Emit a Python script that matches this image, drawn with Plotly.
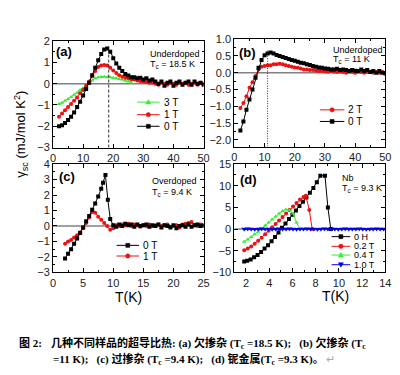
import plotly.graph_objects as go

# ---------------- data ----------------
# (a) underdoped Tc = 18.5 K
T_a = [2, 3, 4, 5, 6, 7, 8, 9, 10, 11, 12, 13, 14, 15, 16, 17, 18, 19, 20, 21, 22, 23, 24, 25, 26,
       27, 28, 29, 30, 31, 32, 33, 34, 35, 36, 37, 38, 39, 40, 41, 42, 43, 44, 45, 46, 47, 48, 49, 50]
a_0T = [-2.0, -1.95, -1.85, -1.7, -1.55, -1.35, -1.1, -0.85, -0.55, -0.25,
        0.05, 0.4, 0.75, 1.1, 1.4, 1.6, 1.65, 1.5, 1.2, 0.95,
        0.75, 0.6, 0.45, 0.38, 0.3, 0.3, 0.25, 0.28, 0.2, 0.25,
        0.15, 0.2, 0.1, 0.0, 0.1, -0.1, 0.05, 0.1, -0.1, 0.05,
        0.1, -0.05, 0.05, 0.1, -0.05, 0.1, 0.0, 0.05, -0.05]
a_1T = [-1.55, -1.4, -1.25, -1.1, -0.95, -0.8, -0.65, -0.45, -0.3, -0.1,
        0.1, 0.35, 0.6, 0.78, 0.85, 0.88, 0.85, 0.75, 0.62, 0.5,
        0.4, 0.33, 0.28, 0.25, 0.2, 0.2, 0.15, 0.12, 0.1, 0.08,
        0.05, 0.05, 0.0, -0.05, 0.05, 0.0, -0.05, 0.05, 0.0, -0.05,
        0.05, 0.0, 0.05, -0.05, 0.0, 0.05, -0.05, 0.05, 0.0]
T_a3 = [2, 3, 4, 5, 6, 7, 8, 9, 10, 11, 12, 13, 14, 15, 16, 17, 18, 19, 20, 21, 22, 23, 24, 25, 26]
a_3T = [-0.95, -0.9, -0.8, -0.72, -0.62, -0.52, -0.42, -0.3, -0.2, -0.08,
        0.05, 0.15, 0.25, 0.3, 0.32, 0.33, 0.3, 0.3, 0.28, 0.25,
        0.22, 0.2, 0.15, 0.1, 0.05]

# (b) underdoped Tc = 11 K
T_b = T_a
b_0T = [-1.72, -1.45, -1.1, -0.8, -0.5, -0.15, 0.15, 0.38, 0.52, 0.57,
        0.6, 0.57, 0.53, 0.5, 0.47, 0.44, 0.41, 0.38, 0.36, 0.33,
        0.3, 0.28, 0.25, 0.23, 0.2, 0.18, 0.16, 0.15, 0.13, 0.12,
        0.1, 0.1, 0.12, 0.08, 0.1, 0.08, 0.05, 0.08, 0.06, 0.05,
        0.1, 0.05, 0.08, 0.02, 0.05, 0.0, 0.05, 0.0, -0.02]
b_2T = [-1.05, -0.9, -0.7, -0.45, -0.28, -0.1, 0.1, 0.18, 0.2, 0.22,
        0.22, 0.25, 0.25, 0.27, 0.25, 0.22, 0.2, 0.18, 0.16, 0.15,
        0.13, 0.1, 0.1, 0.08, 0.08, 0.06, 0.05, 0.05, 0.04, 0.03,
        0.05, 0.03, 0.02, 0.03, 0.02, 0.0, 0.03, 0.02, 0.0, 0.03,
        0.02, 0.0, 0.02, 0.03, 0.0, 0.02, 0.0, 0.02, 0.0]

# (c) overdoped Tc = 9.4 K
T_c0 = [2.0, 2.5, 3.0, 3.5, 4.0, 4.5, 5.0, 5.5, 6.0, 6.5, 7.0, 7.5, 8.0, 8.3, 8.7, 9.1, 9.5, 10.0,
        10.5, 11.0, 11.5, 12.0, 12.5, 13.0, 13.5, 14.0, 14.5, 15.0, 15.5, 16.0, 16.5, 17.0, 17.5,
        18.0, 18.5, 19.0, 19.5, 20.0, 20.5, 21.0, 21.5, 22.0, 22.5, 23.0, 23.5, 24.0, 24.5, 25.0]
c_0T = [-2.1, -1.8, -1.5, -1.15, -0.8, -0.45, -0.1, 0.3, 0.65, 1.05, 1.45, 1.9, 2.4, 2.8, 3.3, 1.7, 0.45, 0.05,
        -0.05, 0.1, 0.0, 0.15, 0.05, 0.1, -0.05, 0.1, 0.0, 0.05, 0.1, -0.05, 0.05, 0.0, 0.1,
        -0.1, 0.05, 0.0, -0.1, 0.05, -0.15, 0.0, 0.05, -0.05, 0.1, -0.05, 0.05, 0.1, 0.0, 0.05]
T_c1 = [2.0, 2.5, 3.0, 3.5, 4.0, 4.5, 5.0, 5.5, 6.0, 6.5, 7.0, 7.5, 8.0, 8.5, 9.0, 9.5, 10.0,
        10.5, 11.0, 11.5, 12.0, 12.5, 13.0, 13.5, 14.0, 14.5, 15.0, 15.5, 16.0, 16.5, 17.0, 17.5,
        18.0, 18.5, 19.0, 19.5, 20.0, 20.5, 21.0, 21.5, 22.0, 22.5, 23.0, 23.5, 24.0, 24.5, 25.0]
c_1T = [-1.15, -1.0, -0.9, -0.75, -0.6, -0.4, -0.15, 0.2, 0.55, 0.9, 0.85, 0.6, 0.4, 0.2, 0.0, -0.25, -0.15,
        0.05, 0.0, 0.1, 0.05, 0.15, 0.0, 0.1, 0.05, -0.05, 0.05, 0.0, 0.1, 0.0, 0.05, 0.1,
        0.0, 0.05, 0.1, -0.05, 0.0, 0.05, -0.1, 0.1, 0.15, 0.2, 0.25, 0.05, 0.0, 0.1, 0.0]

# (d) Nb Tc = 9.3 K
T_d0 = [1.85, 2.1, 2.4, 2.7, 3.0, 3.3, 3.6, 3.9, 4.2, 4.5, 4.8, 5.1, 5.4, 5.7, 6.0, 6.3, 6.6,
        6.9, 7.2, 7.5, 7.8, 8.1, 8.4, 8.8, 9.05, 9.3]
d_0H = [-7.5, -7.3, -7.0, -6.5, -6.0, -5.3, -4.5, -3.7, -2.8, -1.8, -0.8, 0.3, 1.3, 2.3, 3.3, 4.3, 5.3,
        6.3, 7.3, 8.4, 9.5, 10.8, 12.3, 12.3, 5.0, 0.0]
T_d02 = [1.85, 2.15, 2.45, 2.75, 3.05, 3.35, 3.65, 3.95, 4.25, 4.55, 4.85, 5.15, 5.45, 5.75, 6.05,
         6.35, 6.65, 6.95, 7.15, 7.45, 7.7]
d_02T = [-4.9, -4.5, -4.0, -3.4, -2.7, -2.0, -1.2, -0.4, 0.4, 1.2, 2.0, 2.8, 3.6, 4.4, 5.2,
         6.0, 6.8, 7.4, 7.7, 4.4, 0.0]
T_d04 = [1.85, 2.15, 2.45, 2.75, 3.05, 3.35, 3.65, 3.95, 4.25, 4.55, 4.85, 5.15, 5.45, 5.75, 6.05,
         6.35, 6.65]
d_04T = [-2.9, -2.4, -1.8, -1.2, -0.6, 0.1, 0.8, 1.5, 2.2, 2.9, 3.6, 4.2, 4.5, 4.3, 3.6, 1.5, 0.0]
T_d10 = [1.85, 2.15, 2.45, 2.75, 3.05, 3.35, 3.65, 3.95, 4.25, 4.55, 4.85, 5.15, 5.45, 5.75, 6.05,
         6.35, 6.65, 6.95, 7.25, 7.55, 7.85, 8.15, 8.45, 8.75, 9.05, 9.35, 9.65, 9.95, 10.25, 10.55,
         10.85, 11.15, 11.45, 11.75, 12.05, 12.35, 12.65, 12.95, 13.25, 13.55, 13.85]
d_10T = [0.0, 0.05, 0.0, -0.05, 0.0, 0.05, 0.0, 0.0, -0.05, 0.0, 0.05, 0.0, 0.0, 0.05, 0.0,
         -0.05, 0.0, 0.0, 0.05, 0.0, 0.0, -0.05, 0.0, 0.05, 0.0, 0.0, 0.0, -0.05, 0.0, 0.05,
         0.0, 0.0, 0.0, 0.05, 0.0, -0.05, 0.0, 0.0, 0.05, 0.0, 0.0]

# ---------------- figure ----------------
W, H = 400, 375
def PX(x):
    return x / W
def PY(y):
    return 1 - y / H

BLACK, RED, GREEN, BLUE = '#000000', '#ee1111', '#33ee33', '#0000ee'
FONT = 'Arial, Liberation Sans, sans-serif'

fig = go.Figure()

def add(x, y, color, symbol, ax, size=4):
    fig.add_trace(go.Scatter(
        x=x, y=y, mode='lines+markers', xaxis='x' + ax, yaxis='y' + ax,
        line=dict(color=color, width=1),
        marker=dict(symbol=symbol, size=size, color=color, line=dict(width=0)),
        showlegend=False, hoverinfo='skip'))

# zero lines
for ax, x0, x1 in [('', 0, 50), ('2', 0, 50), ('3', 0, 25), ('4', 1, 14)]:
    fig.add_shape(type='line', xref='x' + ax, yref='y' + ax, x0=x0, x1=x1, y0=0, y1=0,
                  line=dict(color='#808080', width=1.5), layer='below')

# dashed Tc lines
fig.add_shape(type='line', xref='x', yref='y', x0=18.5, x1=18.5, y0=-3, y1=1.75,
              line=dict(color='#333', width=1, dash='3px,2px'))
fig.add_shape(type='line', xref='x2', yref='y2', x0=11, x1=11, y0=-2.2, y1=0.66,
              line=dict(color='#333', width=1, dash='1px,1.5px'))

add(T_a3, a_3T, GREEN, 'triangle-up', '')
add(T_a, a_1T, RED, 'circle', '')
add(T_a, a_0T, BLACK, 'square', '')
add(T_b, b_2T, RED, 'circle', '2')
add(T_b, b_0T, BLACK, 'square', '2')
add(T_c1, c_1T, RED, 'circle', '3')
add(T_c0, c_0T, BLACK, 'square', '3')
add(T_d0, d_0H, BLACK, 'square', '4')
add(T_d02, d_02T, RED, 'circle', '4')
add(T_d04, d_04T, GREEN, 'triangle-up', '4')
add(T_d10, d_10T, BLUE, 'triangle-down', '4', size=5)

def axis(domain, rng, dtick, mdtick, anchor, fmt=None):
    d = dict(domain=domain, range=rng, dtick=dtick, tick0=0, anchor=anchor,
             showline=True, linecolor='black', linewidth=1, mirror='allticks',
             ticks='inside', ticklen=4, tickwidth=1, tickcolor='black',
             showgrid=False, zeroline=False,
             tickfont=dict(family=FONT, size=11, color='#222'),
             minor=dict(ticks='inside', ticklen=2, tickcolor='black', dtick=mdtick, tick0=0, showgrid=False))
    if fmt:
        d['tickformat'] = fmt
    return d

xa = [PX(43), PX(197)]
xb = [PX(228.5), PX(383)]
ya = [PY(138), PY(28)]
yb = [PY(137), PY(26)]
yc = [PY(267), PY(155)]

fig.update_layout(
    width=W, height=H, margin=dict(l=0, r=0, t=0, b=0),
    paper_bgcolor='white', plot_bgcolor='white', showlegend=False,
    xaxis=axis(xa, [0, 50], 10, 5, 'y'),
    yaxis=axis(ya, [-3, 2], 1, 0.5, 'x'),
    xaxis2=axis(xb, [0, 50], 10, 5, 'y2'),
    yaxis2=axis(yb, [-2.2, 1.0], 0.5, 0.25, 'x2', '.1f'),
    xaxis3=axis(xa, [0, 25], 5, 2.5, 'y3'),
    yaxis3=axis(yc, [-3, 4], 1, 0.5, 'x3'),
    xaxis4=axis(xb, [1, 14], 2, 1, 'y4'),
    yaxis4=axis(yc, [-10, 15], 5, 2.5, 'x4'),
)

def text(x, y, s, size=10, xanchor='left', bold=False, angle=0, family=FONT, color='black'):
    fig.add_annotation(x=PX(x), y=PY(y), xref='paper', yref='paper', text=('<b>%s</b>' % s) if bold else s,
                       showarrow=False, xanchor=xanchor, yanchor='middle', textangle=angle,
                       font=dict(family=family, size=size, color=color))

# panel texts
text(54, 39, '(a)', 13, 'center', True)
text(140, 41, 'Underdoped', 9)
text(140, 52, 'T<sub>c</sub> = 18.5 K', 9)
text(242, 40, '(b)', 13, 'center', True)
text(327, 37, 'Underdoped', 9)
text(327, 47, 'T<sub>c</sub> = 11 K', 9)
text(57, 168, '(c)', 13, 'center', True)
text(142, 173, 'Overdoped', 9)
text(142, 184, 'T<sub>c</sub> = 9.4 K', 9)
text(243, 171, '(d)', 13, 'center', True)
text(337, 169, 'Nb', 9)
text(337, 180, 'T<sub>c</sub> = 9.3 K', 9)

# axis titles
text(10, 124, 'γ<sub>sc</sub> (mJ/mol K<sup>2</sup>)', 13, 'center', angle=-90)
text(120, 292, 'T(K)', 14, 'center')
text(332, 291, 'T(K)', 14, 'center')

# legends (drawn as keys)
def key(x0, x1, y, color, shape, label, size=10):
    fig.add_shape(type='line', xref='paper', yref='paper', x0=PX(x0), x1=PX(x1), y0=PY(y), y1=PY(y),
                  line=dict(color=color, width=1))
    xc, yc_ = PX((x0 + x1) / 2), PY(y)
    common = dict(xref='paper', yref='paper', xsizemode='pixel', ysizemode='pixel',
                  xanchor=xc, yanchor=yc_, fillcolor=color, line=dict(color=color, width=0.5))
    if shape == 'square':
        fig.add_shape(type='rect', x0=-2, x1=2, y0=-2, y1=2, **common)
    elif shape == 'circle':
        fig.add_shape(type='circle', x0=-2.2, x1=2.2, y0=-2.2, y1=2.2, **common)
    elif shape == 'up':
        fig.add_shape(type='path', path='M-2.5,-2 L2.5,-2 L0,2.5 Z', **common)
    elif shape == 'down':
        fig.add_shape(type='path', path='M-2.5,2 L2.5,2 L0,-2.5 Z', **common)
    text(x1 + 2, y, label, size)

key(129, 152, 91, GREEN, 'up', '3 T')
key(129, 152, 104, RED, 'circle', '1 T')
key(129, 152, 116, BLACK, 'square', '0 T')
key(316, 341, 99, RED, 'circle', '2 T')
key(316, 341, 111, BLACK, 'square', '0 T')
key(108, 131, 239, BLACK, 'square', '0 T')
key(108, 131, 250, RED, 'circle', '1 T')
key(328, 347, 230, BLACK, 'square', '0 H', 9)
key(328, 347, 240, RED, 'circle', '0.2 T', 9)
key(328, 347, 249, GREEN, 'up', '0.4 T', 9)
key(328, 347, 259, BLUE, 'down', '1.0 T', 9)

# caption
CAP = 'Liberation Serif, Noto Sans CJK SC, serif'
text(6, 340, '图 2:', 11, bold=True, family=CAP)
text(39, 340, '几种不同样品的超导比热: (a) 欠掺杂 (T<sub>c</sub> =18.5 K);&nbsp;&nbsp; (b) 欠掺杂 (T<sub>c</sub>',
     11, bold=True, family=CAP)
text(41, 357, '=11 K);&nbsp;&nbsp; (c) 过掺杂 (T<sub>c</sub> =9.4 K);&nbsp;&nbsp; (d) 铌金属(T<sub>c</sub> =9.3 K)。'
     '<span style="color:#aaa;font-weight:normal"> ↵</span>', 11, bold=True, family=CAP)

fig.write_html('out.html')
